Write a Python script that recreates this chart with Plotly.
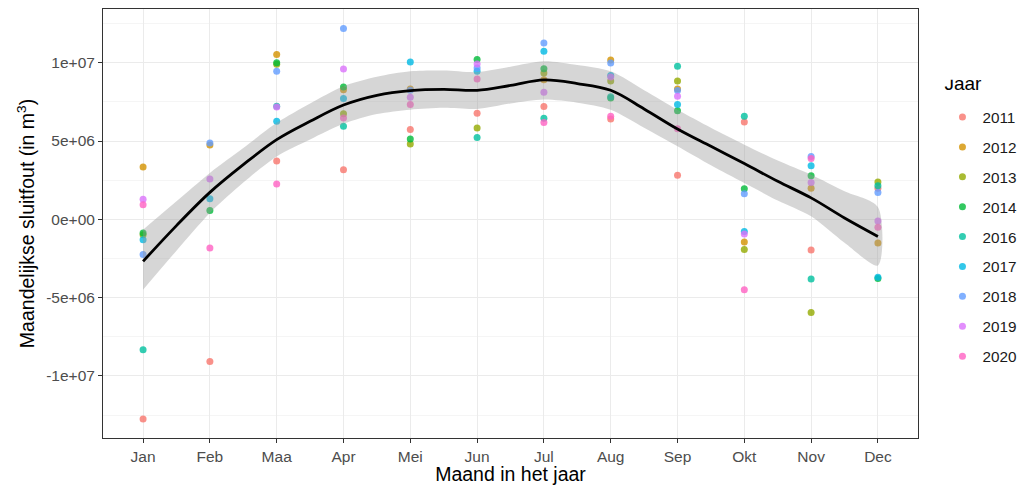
import plotly.graph_objects as go

# Month labels (Dutch) and numeric positions
months = ["Jan", "Feb", "Maa", "Apr", "Mei", "Jun", "Jul", "Aug", "Sep", "Okt", "Nov", "Dec"]
month_pos = list(range(1, 13))

# Monthly closing error (m3) per year; None where no value is shown
y2011 = [-12.75e6, -9.07e6, 3.73e6, 3.17e6, 5.73e6, 6.77e6, 7.20e6, 6.41e6, 2.81e6, 6.22e6, -1.95e6, 1.98e6]
y2012 = [3.35e6, 4.75e6, 10.52e6, 8.28e6, 8.33e6, None, 8.92e6, 10.18e6, 8.33e6, -1.44e6, 1.98e6, -1.51e6]
y2013 = [-0.98e6, None, 9.90e6, 6.75e6, 4.81e6, 5.84e6, 9.35e6, 8.84e6, 8.84e6, -1.92e6, -5.94e6, 2.39e6]
y2014 = [-0.87e6, 0.56e6, 10.00e6, 8.45e6, 5.13e6, 10.20e6, 9.62e6, 7.75e6, 6.94e6, 1.96e6, 2.79e6, -3.77e6]
y2016 = [-8.32e6, None, 7.22e6, 5.94e6, None, 5.22e6, 6.45e6, 7.82e6, 9.77e6, 6.58e6, -3.81e6, 2.15e6]
y2017 = [-1.30e6, 1.32e6, 6.26e6, 7.71e6, 10.05e6, 9.45e6, 10.73e6, 9.18e6, 7.34e6, -0.77e6, 3.43e6, -3.70e6]
y2018 = [-2.24e6, 4.88e6, 9.45e6, 12.19e6, 8.24e6, 9.67e6, 11.26e6, 9.99e6, 8.22e6, 1.64e6, 4.02e6, 1.72e6]
y2019 = [1.28e6, 2.58e6, 7.18e6, 9.60e6, 7.79e6, 9.92e6, 8.11e6, 9.09e6, 7.86e6, -0.93e6, 2.36e6, -0.10e6]
y2020 = [0.94e6, -1.83e6, 2.26e6, 6.47e6, 7.34e6, 8.96e6, 6.19e6, 6.58e6, 5.79e6, -4.49e6, 3.88e6, -0.51e6]

years = ["2011", "2012", "2013", "2014", "2016", "2017", "2018", "2019", "2020"]
series = [y2011, y2012, y2013, y2014, y2016, y2017, y2018, y2019, y2020]
colors = ["#F8766D", "#D39200", "#93AA00", "#00BA38", "#00C19F",
          "#00B9E3", "#619CFF", "#DB72FB", "#FF61C3"]

# Smoothed trend with confidence band, sampled every half month
smooth_x = [1, 1.5, 2, 2.5, 3, 3.5, 4, 4.5, 5, 5.5, 6, 6.5, 7, 7.5, 8, 8.5, 9, 9.5, 10, 10.5, 11, 11.5, 12]
smooth_fit = [-2.68e6, -0.40e6, 1.72e6, 3.49e6, 5.09e6, 6.26e6, 7.30e6, 7.92e6, 8.22e6, 8.30e6, 8.24e6,
              8.55e6, 8.90e6, 8.67e6, 8.24e6, 7.05e6, 5.77e6, 4.66e6, 3.56e6, 2.43e6, 1.37e6, 0.09e6, -1.09e6]
smooth_hi = [-0.66e6, 1.15e6, 2.96e6, 4.55e6, 6.16e6, 7.40e6, 8.50e6, 9.10e6, 9.45e6, 9.50e6, 9.40e6,
             9.75e6, 10.09e6, 9.85e6, 9.45e6, 8.25e6, 7.00e6, 5.85e6, 4.77e6, 3.75e6, 2.85e6, 1.80e6, 0.79e6]
smooth_lo = [-4.49e6, -2.00e6, 0.41e6, 2.35e6, 4.02e6, 5.10e6, 6.10e6, 6.72e6, 7.00e6, 7.12e6, 7.05e6,
             7.40e6, 7.65e6, 7.45e6, 7.00e6, 5.85e6, 4.66e6, 3.45e6, 2.32e6, 1.20e6, 0.19e6, -1.50e6, -2.94e6]

y_tickvals = [-1e7, -5e6, 0, 5e6, 1e7]
y_ticktext = ["-1e+07", "-5e+06", "0e+00", "5e+06", "1e+07"]

FONT = "Liberation Sans, Arial, sans-serif"

fig = go.Figure()

for yr, vals, col in zip(years, series, colors):
    fig.add_trace(go.Scatter(
        x=month_pos, y=vals, mode="markers", name=yr,
        legendgroup=yr,
        marker=dict(color=col, size=7, opacity=0.8, line=dict(width=0)),
    ))

# Confidence ribbon
fig.add_trace(go.Scatter(
    x=smooth_x + smooth_x[::-1], y=smooth_hi + smooth_lo[::-1],
    fill="toself", fillcolor="rgba(153,153,153,0.4)",
    line=dict(width=0, shape="spline", smoothing=0.8), mode="lines",
    showlegend=False, hoverinfo="skip",
))
# Smoothed line
fig.add_trace(go.Scatter(
    x=smooth_x, y=smooth_fit, mode="lines",
    line=dict(color="black", width=2.8, shape="spline", smoothing=1.0),
    showlegend=False,
))

fig.update_layout(
    width=1033, height=485,
    margin=dict(l=103, r=115, t=9, b=47),
    paper_bgcolor="white", plot_bgcolor="white",
    font=dict(family=FONT, color="#4D4D4D", size=15),
    legend=dict(
        # small base size keeps the blank second line short, giving a gap under the title
        title=dict(text="<span style='font-size:19px'>Jaar</span><br> ",
                   font=dict(size=8, color="black")),
        font=dict(size=15.3, color="#1A1A1A"),
        x=1.03, xanchor="left", y=0.835, yanchor="top",
        tracegroupgap=7, itemsizing="trace",
    ),
)

fig.update_xaxes(
    range=[0.4, 12.6], tickvals=month_pos, ticktext=months,
    showgrid=True, gridcolor="#EBEBEB", gridwidth=1.2,
    ticks="outside", ticklen=4, tickcolor="#333333",
    tickfont=dict(size=15.5, color="#4D4D4D"),
    showline=True, linecolor="#333333", linewidth=1, mirror=True,
    zeroline=False, automargin=False,
    title=dict(text="Maand in het jaar", font=dict(size=19.5, color="black"), standoff=3),
)
fig.update_yaxes(
    range=[-13.96e6, 13.43e6], tickvals=y_tickvals, ticktext=y_ticktext,
    showgrid=True, gridcolor="#EBEBEB", gridwidth=1.2,
    minor=dict(tickvals=[-12.5e6, -7.5e6, -2.5e6, 2.5e6, 7.5e6, 12.5e6],
               showgrid=True, gridcolor="#F5F5F5", gridwidth=0.8, ticks=""),
    ticks="outside", ticklen=4, tickcolor="#333333",
    tickfont=dict(size=15.5, color="#4D4D4D"),
    showline=True, linecolor="#333333", linewidth=1, mirror=True,
    zeroline=False, automargin=False,
    title=dict(text="Maandelijkse sluitfout (in m<sup>3</sup>)", font=dict(size=19.5, color="black"), standoff=6),
)

fig.write_html("out.html")
